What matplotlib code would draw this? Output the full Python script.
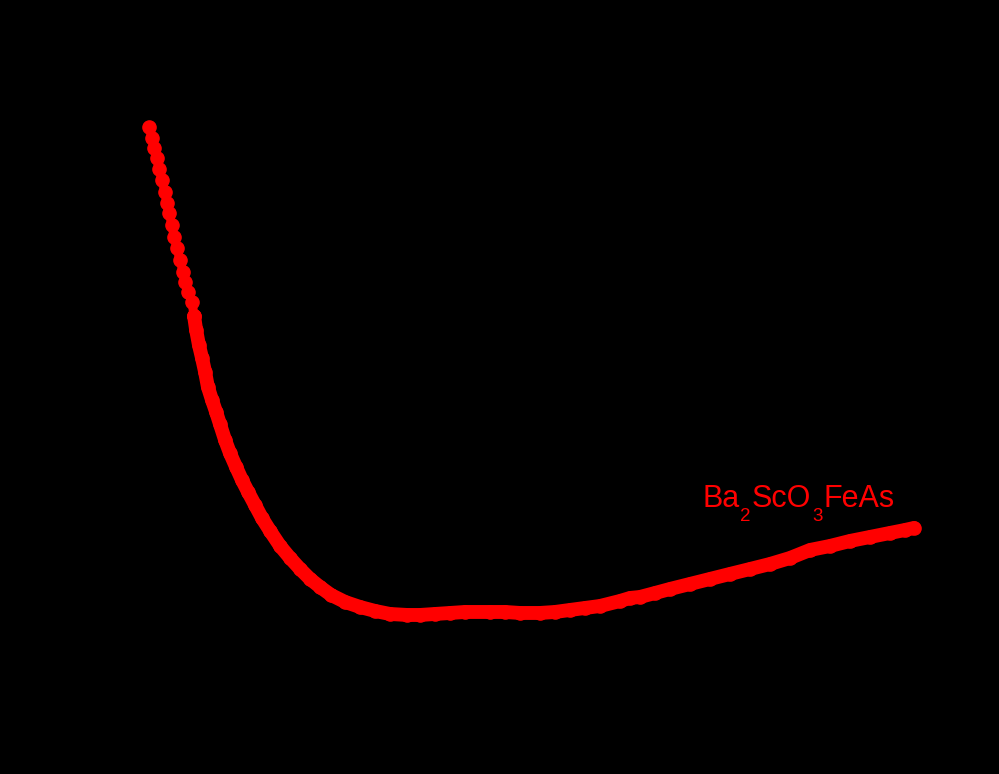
import matplotlib
matplotlib.use("Agg")
import matplotlib.pyplot as plt
from matplotlib.transforms import IdentityTransform

plt.rcParams['font.family'] = ['Liberation Sans', 'DejaVu Sans']

# temperature (K) and resistivity (arb. units)
temperature = [2.4, 3.6, 4.3, 5.5, 6.3, 7.5, 8.6, 9.4, 10.2, 11.4, 12.2, 13.3,
               14.5, 15.7, 16.5, 17.6, 19.2, 20.0, 20.8, 21.9, 23.1, 24.3,
               25.4, 27.0, 28.6, 30.1, 32.1, 34.0, 36.4, 38.7, 41.1, 43.8,
               46.5, 49.7, 53.6, 57.5, 61.4, 65.3, 69.2, 73.5, 79.0, 84.8,
               90.7, 96.5, 103.2, 108.3, 114.1, 120.0, 125.8, 135.6, 141.5,
               147.3, 155.1, 161.0, 166.8, 172.7, 178.6, 186.4, 190.3, 194.2,
               200.1, 205.9, 213.7, 221.5, 229.3, 237.2, 245.0, 252.8, 260.6,
               268.4, 276.2, 284.0, 291.8, 297.7, 301.2]
resistivity = [5.85, 5.74, 5.64, 5.54, 5.43, 5.32, 5.20, 5.09, 4.99, 4.87, 4.75,
               4.64, 4.52, 4.40, 4.30, 4.20, 4.10, 3.96, 3.82, 3.67, 3.54, 3.40,
               3.25, 3.12, 3.00, 2.88, 2.72, 2.59, 2.45, 2.32, 2.20, 2.07, 1.94,
               1.81, 1.66, 1.54, 1.43, 1.33, 1.25, 1.17, 1.10, 1.05, 1.01, 0.98,
               0.97, 0.97, 0.98, 0.99, 1.00, 1.00, 1.00, 0.99, 0.99, 1.00, 1.02,
               1.04, 1.06, 1.11, 1.14, 1.15, 1.19, 1.23, 1.28, 1.33, 1.38, 1.43,
               1.48, 1.54, 1.62, 1.66, 1.71, 1.75, 1.79, 1.82, 1.84]
# label pieces: (text, is_subscript)
label_parts = [("Ba", False), ("2", True), ("ScO", False), ("3", True), ("FeAs", False)]
label_pos = (218.4, 2.05)

red = '#ff0000'
n_top = 17  # low-T points still drawn as separate beads

fig = plt.figure(figsize=(9.99, 7.74), dpi=100, facecolor='black')
ax = fig.add_axes([0.1001, 0.0698, 0.8509, 0.8527], facecolor='black')

ax.plot(temperature[:n_top + 1], resistivity[:n_top + 1], color=red, lw=6.5,
        marker='o', markersize=9.5, solid_capstyle='round')
ax.plot(temperature[n_top:], resistivity[n_top:], color=red, lw=10,
        marker='o', markersize=9.5, solid_capstyle='round', solid_joinstyle='round')

ax.set_xlim(-16.75, 315.28)
ax.set_ylim(-0.08, 6.52)
ax.set_xticks([])
ax.set_yticks([])
for s in ax.spines.values():
    s.set_visible(False)

# chemical formula with low-set subscripts, laid out piece by piece
renderer = fig.canvas.get_renderer()
px, py = ax.transData.transform(label_pos)
for txt, sub in label_parts:
    size = 13.5 if sub else 22
    dy = -14 if sub else 0
    t = fig.text(px, py + dy, txt, color=red, fontsize=size, va='baseline',
                 ha='left', transform=IdentityTransform())
    px += t.get_window_extent(renderer).width + 1

fig.savefig('out.png', dpi=100, facecolor='black')
